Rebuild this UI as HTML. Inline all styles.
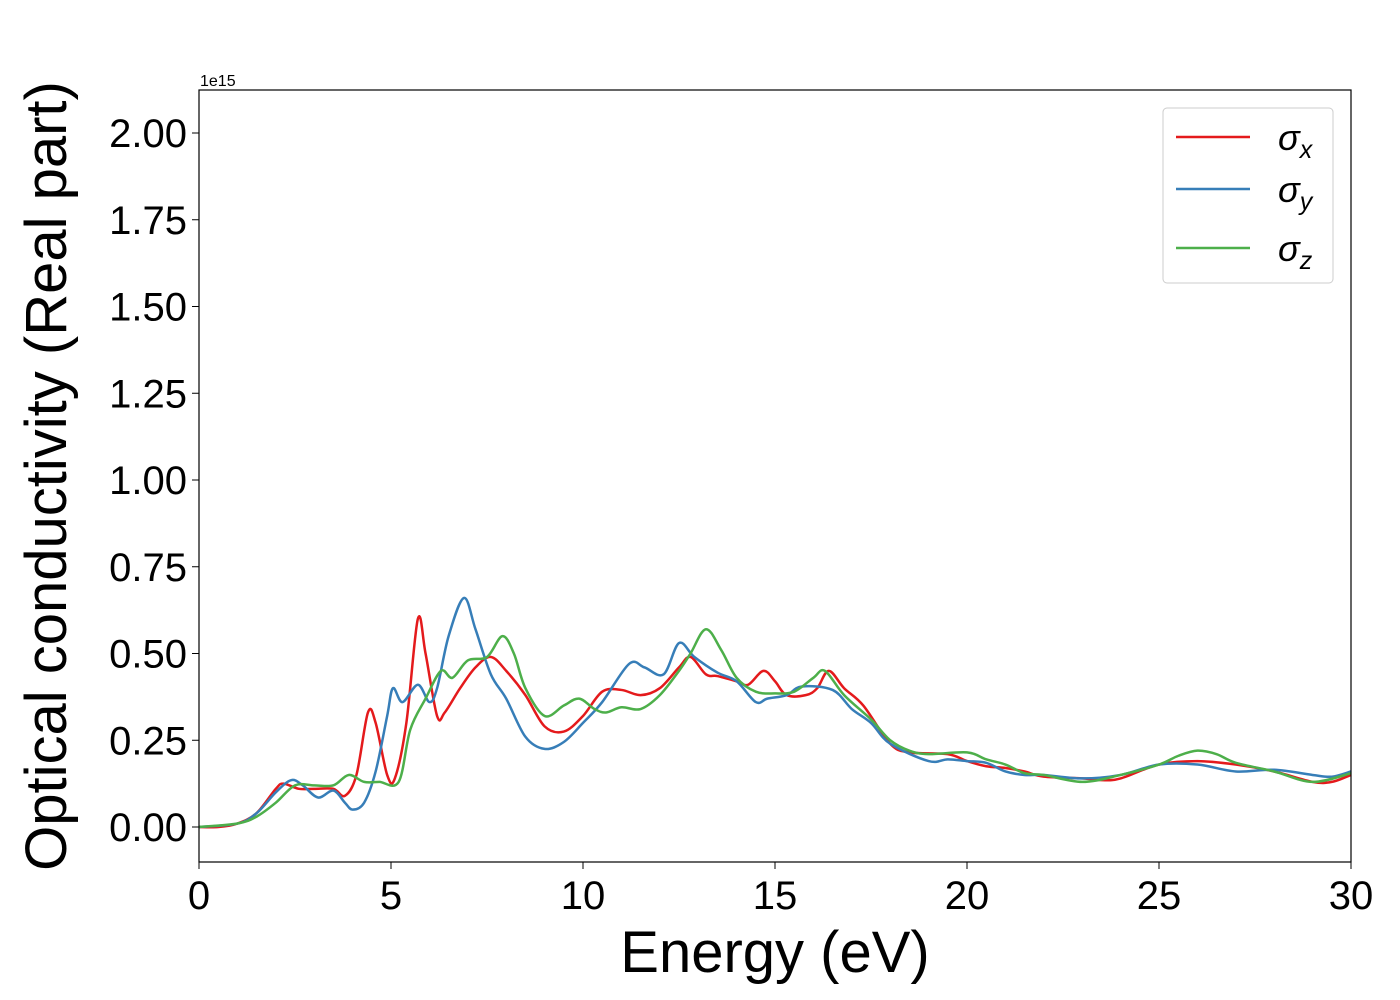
<!DOCTYPE html>
<html><head><meta charset="utf-8">
<style>
html,body{margin:0;padding:0;background:#fff;}
svg{display:block;font-family:"Liberation Sans","DejaVu Sans",sans-serif;}
</style></head>
<body>
<svg id="chart" width="1400" height="1000" viewBox="0 0 1400 1000" xmlns="http://www.w3.org/2000/svg">
<rect x="199" y="90" width="1152" height="772" fill="#fff" stroke="none"/>
<g id="series"></g>
<rect x="199" y="90" width="1152" height="772" fill="none" stroke="#000" stroke-width="1.2"/>
<g id="xticks"></g>
<g id="yticks"></g>
<text x="200" y="86" font-size="16">1e15</text>
<text x="775" y="972" font-size="58" text-anchor="middle">Energy (eV)</text>
<text transform="translate(66,476) rotate(-90)" font-size="58" text-anchor="middle">Optical conductivity (Real part)</text>
<g>
<rect x="1163" y="108" width="170" height="175" rx="4" fill="#fff" fill-opacity="0.8" stroke="#ccc"/>
<line x1="1176" y1="137" x2="1250" y2="137" stroke="#e41a1c" stroke-width="2.5"/>
<text x="1278" y="150" font-size="36" font-style="italic">σ<tspan font-size="25" dy="8">x</tspan></text>
<line x1="1176" y1="189" x2="1250" y2="189" stroke="#377eb8" stroke-width="2.5"/>
<text x="1278" y="202" font-size="36" font-style="italic">σ<tspan font-size="25" dy="8">y</tspan></text>
<line x1="1176" y1="248" x2="1250" y2="248" stroke="#4daf4a" stroke-width="2.5"/>
<text x="1278" y="261" font-size="36" font-style="italic">σ<tspan font-size="25" dy="8">z</tspan></text>
</g>
</svg>
<script>
const xTicks=[0,5,10,15,20,25,30];
const yTicks=[0,0.25,0.5,0.75,1.0,1.25,1.5,1.75,2.0];
const sxE=[0,0.5,1,1.5,2,2.2,2.6,3,3.5,3.8,4.1,4.4,4.6,4.9,5.1,5.4,5.7,5.9,6.2,6.4,6.8,7.2,7.6,8,8.5,9,9.5,10,10.5,11,11.5,12,12.5,12.8,13.2,13.5,14,14.3,14.7,15,15.3,15.8,16.1,16.4,16.8,17.3,18,18.5,19.5,20,20.5,21,21.5,22,23,23.5,24,25,26,27,28,29,29.5,30];
const sxV=[0,0,0.01,0.04,0.11,0.125,0.11,0.11,0.11,0.09,0.15,0.33,0.3,0.15,0.14,0.3,0.6,0.5,0.32,0.33,0.4,0.46,0.49,0.45,0.38,0.29,0.275,0.32,0.39,0.395,0.38,0.4,0.46,0.49,0.44,0.435,0.42,0.41,0.45,0.42,0.38,0.38,0.4,0.45,0.4,0.35,0.24,0.215,0.21,0.19,0.175,0.17,0.16,0.145,0.14,0.135,0.14,0.18,0.19,0.18,0.16,0.13,0.13,0.15];
const syE=[0,1,1.5,2,2.4,2.7,3.1,3.5,3.8,4,4.3,4.6,4.9,5.05,5.3,5.7,6.0,6.2,6.5,6.9,7.2,7.6,8,8.5,9,9.5,10,10.5,11.2,11.6,12.1,12.5,12.9,13.5,14,14.5,14.8,15.3,15.7,16.5,17,17.5,18,19,19.5,20,20.5,21,21.5,22,23,24,25,26,27,28,29,29.5,30];
const syV=[0,0.01,0.04,0.1,0.135,0.12,0.085,0.105,0.07,0.05,0.07,0.16,0.32,0.4,0.36,0.41,0.36,0.4,0.55,0.66,0.57,0.44,0.37,0.26,0.225,0.245,0.3,0.36,0.47,0.46,0.44,0.53,0.49,0.445,0.42,0.36,0.37,0.38,0.405,0.395,0.34,0.3,0.24,0.19,0.195,0.19,0.185,0.16,0.15,0.15,0.14,0.15,0.18,0.18,0.16,0.165,0.15,0.145,0.16];
const szE=[0,1,1.5,2,2.5,3,3.5,3.9,4.3,4.7,5.2,5.5,5.9,6.3,6.6,7,7.5,7.9,8.2,8.5,9,9.5,9.9,10.3,10.6,11,11.5,12,12.5,12.8,13.2,13.6,14,14.5,15,15.5,16,16.3,16.8,17.5,18,18.5,19,20,20.5,21,21.5,22,23,24,25,25.5,26,26.5,27,28,29,30];
const szV=[0,0.01,0.03,0.07,0.12,0.12,0.12,0.15,0.13,0.13,0.13,0.28,0.37,0.45,0.43,0.48,0.49,0.55,0.5,0.4,0.32,0.35,0.37,0.34,0.33,0.345,0.34,0.38,0.45,0.5,0.57,0.51,0.43,0.39,0.385,0.39,0.43,0.45,0.38,0.31,0.25,0.22,0.21,0.215,0.195,0.18,0.155,0.15,0.13,0.15,0.18,0.205,0.22,0.21,0.185,0.16,0.13,0.155];

const X0=199,X1=1351,XMIN=0,XMAX=30;
const Y0v=827,Y2v=133;
function xs(v){return X0+(v-XMIN)/(XMAX-XMIN)*(X1-X0);}
function ys(v){return Y0v-(v/2.0)*(Y0v-Y2v);}
const NS="http://www.w3.org/2000/svg";
const svg=document.getElementById('chart');
const xg=document.getElementById('xticks'),yg=document.getElementById('yticks'),sg=document.getElementById('series');
xTicks.forEach(t=>{
  const l=document.createElementNS(NS,'line');
  
  
  l.setAttribute('x1',xs(t));l.setAttribute('x2',xs(t));l.setAttribute('y1',862);l.setAttribute('y2',869);l.setAttribute('stroke','#000');
  xg.appendChild(l);
  const tx=document.createElementNS(NS,'text');
  
  
  tx.setAttribute('x',xs(t));tx.setAttribute('y',909);tx.setAttribute('font-size','40');tx.setAttribute('text-anchor','middle');
  tx.textContent=t;xg.appendChild(tx);
});
yTicks.forEach(t=>{
  const l=document.createElementNS(NS,'line');
  
  
  l.setAttribute('x1',192);l.setAttribute('x2',199);l.setAttribute('y1',ys(t));l.setAttribute('y2',ys(t));l.setAttribute('stroke','#000');
  yg.appendChild(l);
  const tx=document.createElementNS(NS,'text');
  
  
  tx.setAttribute('x',187);tx.setAttribute('y',ys(t)+14);tx.setAttribute('font-size','40');tx.setAttribute('text-anchor','end');
  tx.textContent=t.toFixed(2);yg.appendChild(tx);
});
function pathFor(E,V){
  const p=E.map((e,i)=>[xs(e),ys(V[i])]);
  let d='M'+p[0][0]+','+p[0][1];
  for(let i=0;i<p.length-1;i++){
    const p0=p[Math.max(i-1,0)],p1=p[i],p2=p[i+1],p3=p[Math.min(i+2,p.length-1)];
    const c1=[p1[0]+(p2[0]-p0[0])/6,p1[1]+(p2[1]-p0[1])/6];
    const c2=[p2[0]-(p3[0]-p1[0])/6,p2[1]-(p3[1]-p1[1])/6];
    d+=' C'+c1[0]+','+c1[1]+' '+c2[0]+','+c2[1]+' '+p2[0]+','+p2[1];
  }
  return d;
}
[[sxE,sxV,'#e41a1c','series-sigma-x'],[syE,syV,'#377eb8','series-sigma-y'],[szE,szV,'#4daf4a','series-sigma-z']].forEach(s=>{
  const pa=document.createElementNS(NS,'path');
  
  
  pa.setAttribute('d',pathFor(s[0],s[1]));pa.setAttribute('fill','none');pa.setAttribute('stroke',s[2]);pa.setAttribute('stroke-width','2.5');
  sg.appendChild(pa);
});
</script>
</body></html>
